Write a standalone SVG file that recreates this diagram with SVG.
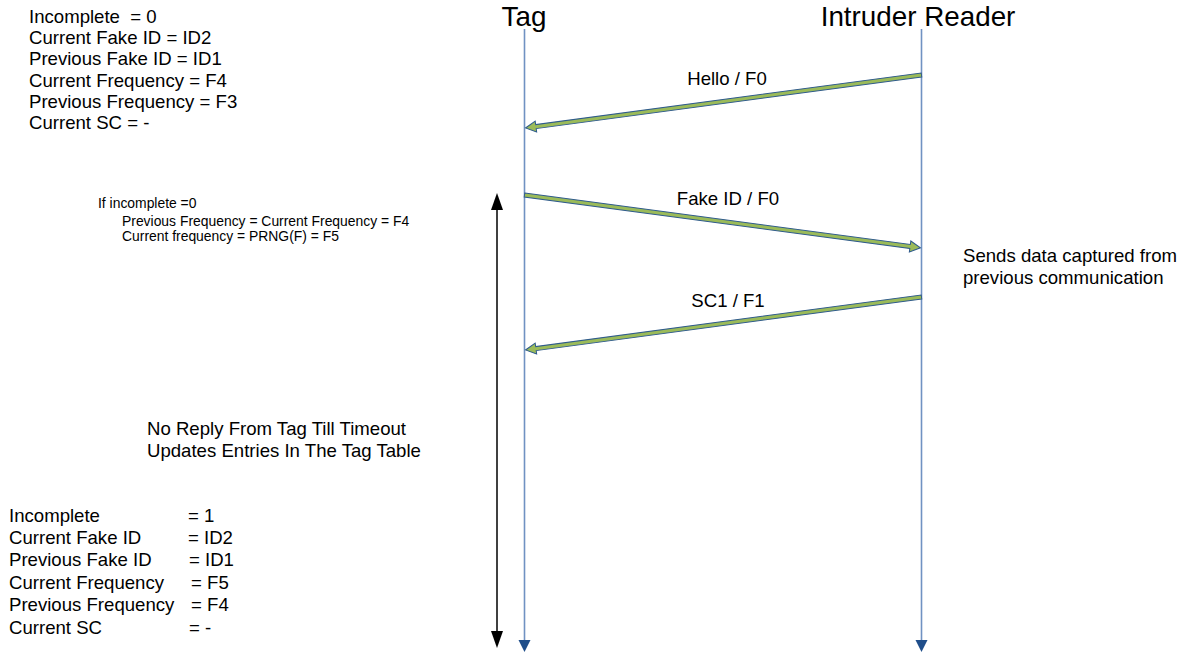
<svg xmlns="http://www.w3.org/2000/svg" xmlns:xlink="http://www.w3.org/1999/xlink" width="1192" height="652" viewBox="0 0 1192 652">
<style>
text{font-family:"Liberation Sans",Arial,sans-serif;fill:#000;white-space:pre}
.t{font-size:18.6px}
.h{font-size:27.8px;text-anchor:middle}
.s{font-size:13.9px}
.m{font-size:18.6px;text-anchor:middle}
.life{stroke:#7092c2;stroke-width:1.6;fill:none}
.lhead{fill:#1f4e8a}
.msg{fill:#9bbb59;stroke:#2f5b8c;stroke-width:1}
</style>
<defs>
<path id="ga" d="M0,-2 L389,-2 L389,-5.5 L399.5,0 L389,5.5 L389,2 L0,2 Z"/>
</defs>
<rect width="1192" height="652" fill="#fff"/>

<g id="tag">
<text class="h" x="524" y="26">Tag</text>
<line class="life" x1="524.5" y1="29" x2="524.5" y2="641"/>
<polygon class="lhead" points="518.5,640 530.5,640 524.5,652"/>
</g>

<g id="reader">
<text class="h" x="918" y="26">Intruder Reader</text>
<line class="life" x1="921.5" y1="29" x2="921.5" y2="641"/>
<polygon class="lhead" points="915.5,640 927.5,640 921.5,652"/>
</g>

<g id="state-before">
<text class="t" x="29" y="23">Incomplete  = 0</text>
<text class="t" x="29" y="44.2">Current Fake ID = ID2</text>
<text class="t" x="29" y="65.4">Previous Fake ID = ID1</text>
<text class="t" x="29" y="86.6">Current Frequency = F4</text>
<text class="t" x="29" y="107.8">Previous Frequency = F3</text>
<text class="t" x="29" y="129">Current SC = -</text>
</g>

<g id="condition">
<text class="s" x="98" y="208">If incomplete =0</text>
<text class="s" x="122" y="226">Previous Frequency = Current Frequency = F4</text>
<text class="s" x="122" y="241">Current frequency = PRNG(F) = F5</text>
</g>

<g id="note-timeout">
<text class="t" x="147" y="435">No Reply From Tag Till Timeout</text>
<text class="t" x="147" y="457">Updates Entries In The Tag Table</text>
</g>

<g id="note-replay">
<text class="t" x="963" y="262">Sends data captured from</text>
<text class="t" x="963" y="284">previous communication</text>
</g>

<g id="state-after">
<text class="t" y="521.5"><tspan x="9">Incomplete</tspan><tspan x="188">= 1</tspan></text>
<text class="t" y="543.9"><tspan x="9">Current Fake ID</tspan><tspan x="188">= ID2</tspan></text>
<text class="t" y="566.3"><tspan x="9">Previous Fake ID</tspan><tspan x="189">= ID1</tspan></text>
<text class="t" y="588.7"><tspan x="9">Current Frequency</tspan><tspan x="191">= F5</tspan></text>
<text class="t" y="611.1"><tspan x="9">Previous Frequency</tspan><tspan x="191">= F4</tspan></text>
<text class="t" y="633.5"><tspan x="9">Current SC</tspan><tspan x="189">= -</tspan></text>
</g>

<g id="connectors">
<use xlink:href="#ga" class="msg" transform="translate(921.5,75) rotate(172.38)"/>
<use xlink:href="#ga" class="msg" transform="translate(524.5,195) rotate(7.6)"/>
<use xlink:href="#ga" class="msg" transform="translate(921.5,297) rotate(172.38)"/>
<text class="m" x="727" y="85">Hello / F0</text>
<text class="m" x="728" y="205">Fake ID / F0</text>
<text class="m" x="728" y="307">SC1 / F1</text>
<g id="timeout-span">
<line x1="497" y1="205" x2="497" y2="636" stroke="#000" stroke-width="1.5"/>
<polygon points="491,210 503,210 497,193" fill="#000"/>
<polygon points="491,631 503,631 497,648" fill="#000"/>
</g>
</g>
</svg>
